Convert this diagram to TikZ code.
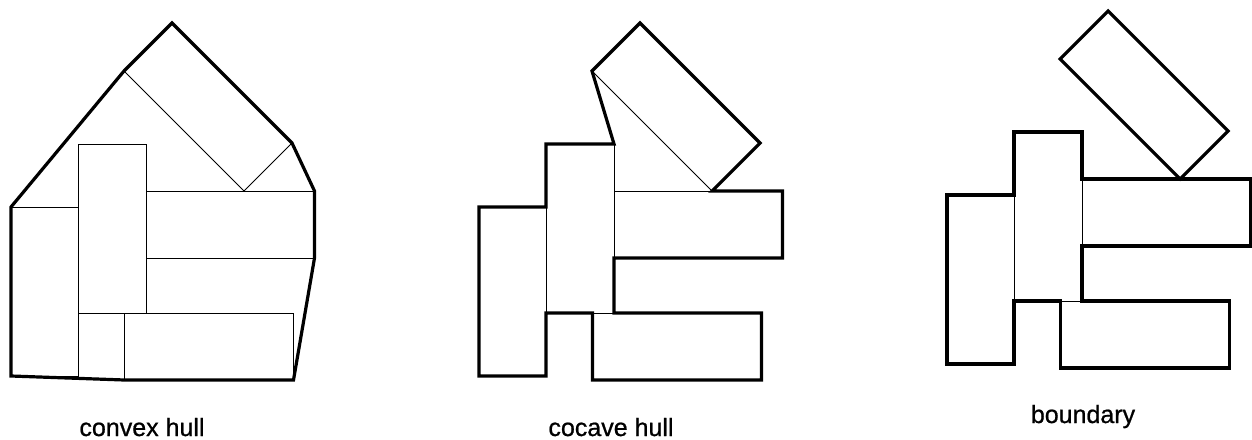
\documentclass[tikz,border=0pt]{standalone}
\usepackage{fontspec}
\setmainfont{Liberation Sans}
\newfontfamily\capfont[FakeBold=0.8]{Liberation Sans}
\begin{document}
\begin{tikzpicture}[x=1pt,y=-1pt,
  thinedge/.style={draw=black,line width=0.8pt},
  thickedge/.style={draw=black,line width=3.2pt,line join=miter},
  caption/.style={anchor=base,inner sep=0pt,font=\capfont\fontsize{25}{30}\selectfont}]
\useasboundingbox (0,0) rectangle (1252,439);
% base shapes (panel 1 coordinates)
\tikzset{
  rects/.pic={
    \draw[thinedge] (11,207) rectangle (78,376);
    \draw[thinedge] (78,144) rectangle (146,313);
    \draw[thinedge] (146,191) rectangle (314.5,258);
    \draw[thinedge] (124.5,313) rectangle (293.5,380);
    \draw[thinedge] (172,23) -- (292,143) -- (244,191) -- (124,71) -- cycle;
  }}
% panel 1: convex hull
\pic at (0,0) {rects};
\draw[thickedge] (172,23) -- (292,143) -- (314.5,191) -- (314.5,258) -- (293.5,380)
  -- (124.5,380) -- (11,376) -- (11,207) -- (124,71) -- cycle;
\node[caption] (l1) at (142,436) {convex hull};
% panel 2: concave hull
\begin{scope}[shift={(468,0)}]
\pic at (0,0) {rects};
\draw[thickedge] (124,71) -- (172,23) -- (292,143) -- (244,191) -- (314.5,191)
  -- (314.5,258) -- (146,258) -- (146,313) -- (293.5,313) -- (293.5,380)
  -- (124.5,380) -- (124.5,313) -- (78,313) -- (78,376) -- (11,376)
  -- (11,207) -- (78,207) -- (78,144) -- (146,144) -- cycle;
\node[caption] (l2) at (143,436) {cocave hull};
\end{scope}
% panel 3: boundary
\begin{scope}[shift={(936,-12)}]
\pic at (0,0) {rects};
\draw[thickedge] (172,23) -- (292,143) -- (244,191) -- (124,71) -- cycle;
\draw[thickedge] (11,207) -- (78,207) -- (78,144) -- (146,144) -- (146,191)
  -- (314.5,191) -- (314.5,258) -- (146,258) -- (146,313) -- (293.5,313)
  -- (293.5,380) -- (124.5,380) -- (124.5,313) -- (78,313) -- (78,376)
  -- (11,376) -- cycle;
\node[caption] (l3) at (147,435) {boundary};
\end{scope}
\end{tikzpicture}
\end{document}
